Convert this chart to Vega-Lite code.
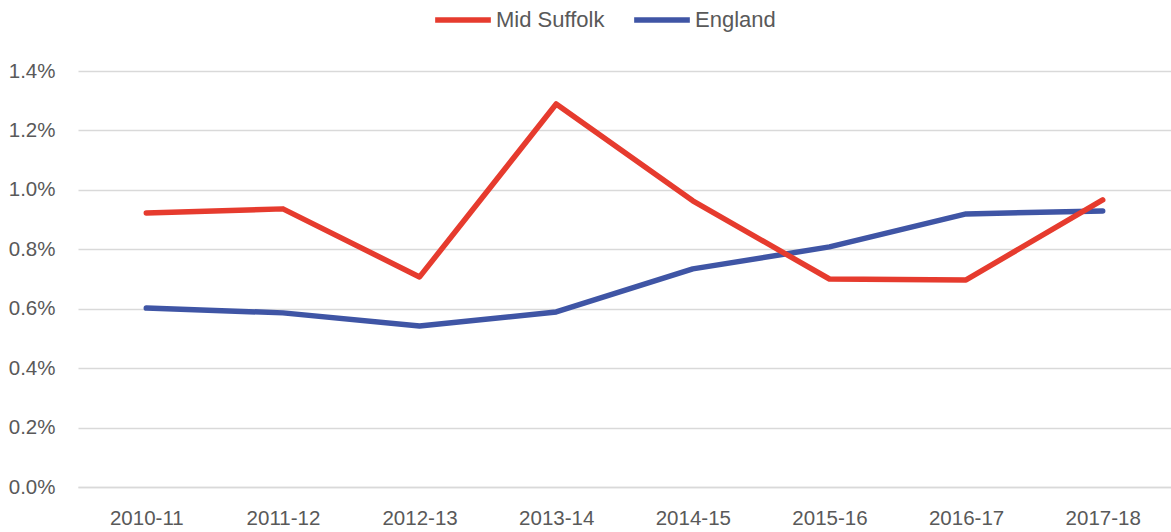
{
  "$schema": "https://vega.github.io/schema/vega-lite/v6.json",
  "width": 1093,
  "height": 416,
  "autosize": {"type": "none"},
  "padding": {"left": 78, "top": 71, "right": 0, "bottom": 45},
  "background": "white",
  "config": {
    "view": {"stroke": null},
    "font": "Liberation Sans"
  },
  "data": {
    "values": [
      {"year": "2010-11", "series": "England", "value": 0.00602},
      {"year": "2011-12", "series": "England", "value": 0.00586},
      {"year": "2012-13", "series": "England", "value": 0.00542},
      {"year": "2013-14", "series": "England", "value": 0.00589},
      {"year": "2014-15", "series": "England", "value": 0.00734},
      {"year": "2015-16", "series": "England", "value": 0.00808},
      {"year": "2016-17", "series": "England", "value": 0.00919},
      {"year": "2017-18", "series": "England", "value": 0.00929},
      {"year": "2010-11", "series": "Mid Suffolk", "value": 0.00922},
      {"year": "2011-12", "series": "Mid Suffolk", "value": 0.00936},
      {"year": "2012-13", "series": "Mid Suffolk", "value": 0.00707},
      {"year": "2013-14", "series": "Mid Suffolk", "value": 0.01289},
      {"year": "2014-15", "series": "Mid Suffolk", "value": 0.00963},
      {"year": "2015-16", "series": "Mid Suffolk", "value": 0.00700},
      {"year": "2016-17", "series": "Mid Suffolk", "value": 0.00697},
      {"year": "2017-18", "series": "Mid Suffolk", "value": 0.00966}
    ]
  },
  "mark": {"type": "line", "strokeWidth": 5.5, "strokeCap": "round", "strokeJoin": "round"},
  "encoding": {
    "x": {
      "field": "year",
      "type": "ordinal",
      "sort": null,
      "scale": {"type": "point", "padding": 0.5},
      "axis": {
        "title": null,
        "labelAngle": 0,
        "labelFontSize": 20.5,
        "labelColor": "#595959",
        "labelPadding": 21,
        "ticks": false,
        "grid": false,
        "domainColor": "#D9D9D9",
        "domainWidth": 1.5
      }
    },
    "y": {
      "field": "value",
      "type": "quantitative",
      "scale": {"domain": [0, 0.014], "nice": false},
      "axis": {
        "title": null,
        "values": [0, 0.002, 0.004, 0.006, 0.008, 0.010, 0.012, 0.014],
        "format": ".1%",
        "labelFontSize": 20.5,
        "labelColor": "#595959",
        "labelPadding": 23,
        "ticks": false,
        "domain": false,
        "gridColor": "#D9D9D9",
        "gridWidth": 1.5
      }
    },
    "color": {
      "field": "series",
      "type": "nominal",
      "scale": {"domain": ["Mid Suffolk", "England"], "range": ["#E63B2E", "#3F55A5"]},
      "legend": {
        "title": null,
        "orient": "none",
        "direction": "horizontal",
        "legendX": 354,
        "legendY": -82,
        "symbolType": "stroke",
        "symbolSize": 3100,
        "symbolStrokeWidth": 5.5,
        "labelFontSize": 22,
        "labelColor": "#595959",
        "labelOffset": 2,
        "columnPadding": 18
      }
    }
  }
}
